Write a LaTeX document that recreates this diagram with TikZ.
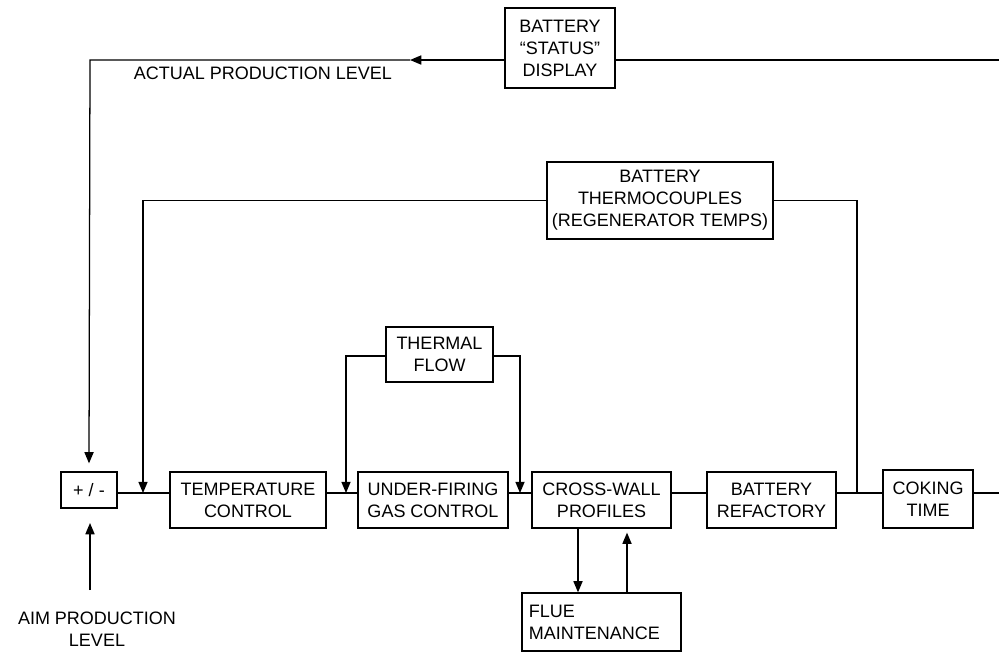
\documentclass[tikz,border=0pt]{standalone}
\usepackage{fontspec}
\setmainfont{Liberation Sans}
\usetikzlibrary{arrows.meta,calc}
\begin{document}
\begin{tikzpicture}[x=0.025cm,y=-0.025cm,
  every node/.style={font=\fontsize{12.8}{15.6}\selectfont},
  blk/.style={draw,line width=0.9pt,align=center,inner sep=0pt},
  conn/.style={line width=0.9pt},
  arr/.style={line width=0.9pt,-{Triangle[length=8pt,width=6.5pt]}}]
\useasboundingbox (0,0) rectangle (999,652);
% boxes
\node[blk,minimum width=2.75cm,minimum height=2.0cm] (status) at (560,48) {BATTERY\\``STATUS''\\DISPLAY};
\node[blk,minimum width=5.65cm,minimum height=1.925cm] (thermo) at (660,200.5) {BATTERY\\THERMOCOUPLES\\(REGENERATOR TEMPS)};
\node[blk,minimum width=2.675cm,minimum height=1.375cm] (thermal) at (439.5,354.5) {THERMAL\\FLOW};
\node[blk,minimum width=1.4cm,minimum height=0.9cm] (pm) at (89,490) {+ / -};
\node[blk,minimum width=3.9cm,minimum height=1.4cm] (temp) at (248,500) {TEMPERATURE\\CONTROL};
\node[blk,minimum width=3.75cm,minimum height=1.4cm] (ufgc) at (433,500) {UNDER-FIRING\\GAS CONTROL};
\node[blk,minimum width=3.475cm,minimum height=1.4cm] (cwp) at (601.5,500) {CROSS-WALL\\PROFILES};
\node[blk,minimum width=3.225cm,minimum height=1.4cm] (ref) at (771.5,500) {BATTERY\\REFACTORY};
\node[blk,minimum width=2.25cm,minimum height=1.45cm] (coke) at (928,499) {COKING\\TIME};
\node[draw,line width=0.9pt,minimum height=1.45cm,inner ysep=0pt,inner xsep=0.175cm,text width=3.625cm,align=left] (flue) at (601.5,622) {FLUE\\MAINTENANCE};
% labels
\node (actual) at (263,73) {ACTUAL PRODUCTION LEVEL};
\node[align=center] (aim) at (97,629) {AIM PRODUCTION\\LEVEL};
% coordinates
\coordinate (my) at (0,493);
\coordinate (ty) at (0,60);
\coordinate (aptip) at (410,60);
\coordinate (tl) at (90,60);
\coordinate (tr) at (999,60);
\coordinate (mr) at (999,493);
\coordinate (aimstart) at (90,590);
\coordinate (aimtip) at (90,523);
\coordinate (thl) at (143,200.5);
\coordinate (thr) at (857,200.5);
\coordinate (tfl) at (346,356);
\coordinate (tfr) at (520,356);
\coordinate (cwd) at (578,0);
\coordinate (cwu) at (627,0);
% top feedback
\draw[arr] (status.west |- ty) -- (aptip);
\draw[arr] (aptip) -- (tl) -- ([yshift=0.2cm]pm.north);
\draw[conn] (status.east |- ty) -- (tr);
% aim
\draw[arr] (aimstart) -- (aimtip);
% main chain
\draw[conn] (pm.east |- my) -- (temp.west |- my);
\draw[conn] (temp.east |- my) -- (ufgc.west |- my);
\draw[conn] (ufgc.east |- my) -- (cwp.west |- my);
\draw[conn] (cwp.east |- my) -- (ref.west |- my);
\draw[conn] (ref.east |- my) -- (coke.west |- my);
\draw[conn] (coke.east |- my) -- (mr);
% thermocouples
\draw[arr] (thermo.west |- thl) -- (thl) -- (thl |- my);
\draw[conn] (thermo.east |- thr) -- (thr) -- (thr |- my);
% thermal flow
\draw[arr] (thermal.west |- tfl) -- (tfl) -- (tfl |- my);
\draw[arr] (thermal.east |- tfr) -- (tfr) -- (tfr |- my);
% flue
\draw[arr] (cwd |- cwp.south) -- (cwd |- flue.north);
\draw[arr] (cwu |- flue.north) -- ([yshift=-0.1cm]cwu |- cwp.south);
\end{tikzpicture}
\end{document}
